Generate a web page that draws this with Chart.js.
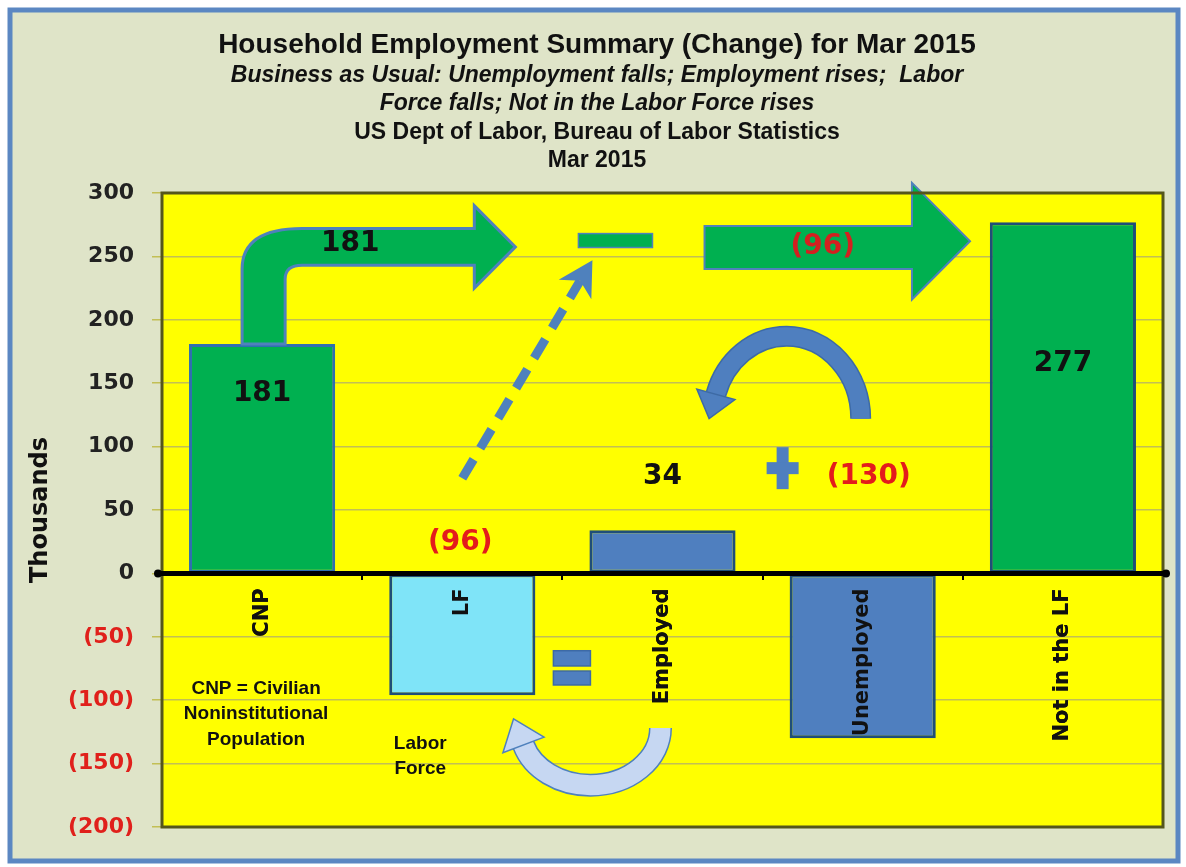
<!DOCTYPE html>
<html>
<head>
<meta charset="utf-8">
<script src="https://cdn.jsdelivr.net/npm/chart.js@4.4.1/dist/chart.umd.min.js"></script>
<style>
  html, body { margin: 0; padding: 0; background: #fff; }
  #wrap { width: 1186px; height: 867px; }
</style>
</head>
<body>
<div id="wrap"><canvas id="chartEmployment" width="1186" height="867"></canvas></div>
<script>
// data (thousands)
const categories = ['CNP', 'LF', 'Employed', 'Unemployed', 'Not in the LF'];
const changes = [181, -96, 34, -130, 277];
const barColors = ['#00b050', '#7fe4f8', '#4f7fbf', '#4f7fbf', '#00b050'];
const barBorders = ['#2f6fb0', '#1f4e79', '#1f4e79', '#1f4e79', '#1f4e79'];
const yMin = -200, yMax = 300, yStep = 50;
const titleLines = [
  'Household Employment Summary (Change) for Mar 2015',
  'Business as Usual: Unemployment falls; Employment rises;  Labor',
  'Force falls; Not in the Labor Force rises',
  'US Dept of Labor, Bureau of Labor Statistics',
  'Mar 2015'
];

function fmt(v) {
  return v < 0 ? '(' + (-v) + ')' : String(v);
}

function curvedArrow(ctx, cx, cy, rx, ry, a0, a1, anti, w, fill, stroke) {
  ctx.save();
  ctx.lineCap = 'butt';
  ctx.beginPath();
  ctx.ellipse(cx, cy, rx, ry, 0, a0, a1, anti);
  ctx.strokeStyle = stroke;
  ctx.lineWidth = w + 3;
  ctx.stroke();
  ctx.beginPath();
  ctx.ellipse(cx, cy, rx, ry, 0, a0, a1, anti);
  ctx.strokeStyle = fill;
  ctx.lineWidth = w;
  ctx.stroke();
  let ex = cx + rx * Math.cos(a1), ey = cy + ry * Math.sin(a1);
  let dx = -rx * Math.sin(a1), dy = ry * Math.cos(a1);
  if (anti) { dx = -dx; dy = -dy; }
  let len = Math.hypot(dx, dy);
  dx /= len; dy /= len;
  let nx = -dy, ny = dx;
  let hw = w * 1.1, hl = w * 1.4;
  ctx.beginPath();
  ctx.moveTo(ex + nx * hw, ey + ny * hw);
  ctx.lineTo(ex + dx * hl, ey + dy * hl);
  ctx.lineTo(ex - nx * hw, ey - ny * hw);
  ctx.closePath();
  ctx.fillStyle = fill;
  ctx.fill();
  ctx.strokeStyle = stroke;
  ctx.lineWidth = 1.5;
  ctx.stroke();
  ctx.restore();
}

const decoPlugin = {
  id: 'deco',
  beforeDraw(chart) {
    const ctx = chart.ctx, a = chart.chartArea;
    ctx.save();
    ctx.fillStyle = '#ffffff';
    ctx.fillRect(0, 0, chart.width, chart.height);
    ctx.fillStyle = '#dfe4c8';
    ctx.fillRect(10, 10, 1168, 851);
    ctx.strokeStyle = '#5b87c2';
    ctx.lineWidth = 5;
    ctx.strokeRect(10, 10, 1168, 851);
    ctx.fillStyle = '#ffff00';
    ctx.fillRect(a.left, a.top, a.right - a.left, a.bottom - a.top);

    // titles
    ctx.fillStyle = '#111';
    ctx.textAlign = 'center';
    ctx.textBaseline = 'middle';
    const fonts = [
      'bold 28px "Liberation Sans"',
      'italic bold 23px "Liberation Sans"',
      'italic bold 23px "Liberation Sans"',
      'bold 23px "Liberation Sans"',
      'bold 23px "Liberation Sans"'
    ];
    const ys = [45, 76, 104, 133, 161];
    titleLines.forEach(function(t, k) {
      ctx.font = fonts[k];
      ctx.fillText(t, 597, ys[k]);
    });
    ctx.restore();
  },
  afterDatasetsDraw(chart) {
    const ctx = chart.ctx;
    const xs = chart.scales.x, ys = chart.scales.y;
    const P = function(i, v) { return [xs.getPixelForValue(i), ys.getPixelForValue(v)]; };
    const ux = xs.getPixelForValue(1) - xs.getPixelForValue(0);
    const uy = ys.getPixelForValue(0) - ys.getPixelForValue(1);
    ctx.save();

    // elbow arrow from CNP up and to the right
    const path = [
      ['M', -0.1, 181], ['L', -0.1, 240], ['Q', -0.1, 272, 0.2, 272],
      ['L', 1.06, 272], ['L', 1.06, 290], ['L', 1.265, 257.5], ['L', 1.06, 225],
      ['L', 1.06, 243], ['L', 0.2, 243], ['Q', 0.115, 243, 0.115, 232], ['L', 0.115, 181]
    ];
    ctx.beginPath();
    path.forEach(function(s) {
      let p = P(s[1], s[2]);
      if (s[0] === 'M') ctx.moveTo(p[0], p[1]);
      else if (s[0] === 'L') ctx.lineTo(p[0], p[1]);
      else { let q = P(s[3], s[4]); ctx.quadraticCurveTo(p[0], p[1], q[0], q[1]); }
    });
    ctx.closePath();
    ctx.fillStyle = '#00b050';
    ctx.fill();
    ctx.strokeStyle = '#4f81bd';
    ctx.lineWidth = 3;
    ctx.stroke();

    // minus sign
    let m0 = P(1.58, 268), m1 = P(1.95, 257);
    ctx.fillStyle = '#00b050';
    ctx.fillRect(m0[0], m0[1], m1[0] - m0[0], m1[1] - m0[1]);
    ctx.strokeStyle = '#4f81bd';
    ctx.lineWidth = 1.5;
    ctx.strokeRect(m0[0], m0[1], m1[0] - m0[0], m1[1] - m0[1]);

    // big arrow to Not in the LF
    const big = [[2.21, 274], [3.246, 274], [3.246, 308], [3.536, 262], [3.246, 216], [3.246, 240], [2.21, 240]];
    ctx.beginPath();
    big.forEach(function(s, k) {
      let p = P(s[0], s[1]);
      if (k === 0) ctx.moveTo(p[0], p[1]); else ctx.lineTo(p[0], p[1]);
    });
    ctx.closePath();
    ctx.fillStyle = '#00b050';
    ctx.fill();
    ctx.strokeStyle = '#4f81bd';
    ctx.lineWidth = 2;
    ctx.stroke();

    // dashed arrow from LF up to the minus sign
    let s0 = P(1.0, 75), s1 = P(1.65, 247);
    let dx = s1[0] - s0[0], dy = s1[1] - s0[1], L = Math.hypot(dx, dy);
    dx /= L; dy /= L;
    ctx.beginPath();
    ctx.setLineDash([22, 13]);
    ctx.moveTo(s0[0], s0[1]);
    ctx.lineTo(s1[0] - dx * 24, s1[1] - dy * 24);
    ctx.strokeStyle = '#4f81bd';
    ctx.lineWidth = 9;
    ctx.stroke();
    ctx.setLineDash([]);
    ctx.beginPath();
    ctx.moveTo(s1[0], s1[1]);
    ctx.lineTo(s1[0] - dx * 34 - dy * 19, s1[1] - dy * 34 + dx * 19);
    ctx.lineTo(s1[0] - dx * 24, s1[1] - dy * 24);
    ctx.lineTo(s1[0] - dx * 34 + dy * 19, s1[1] - dy * 34 - dx * 19);
    ctx.closePath();
    ctx.fillStyle = '#4f81bd';
    ctx.fill();

    // curved arrow over Unemployed
    let c1 = P(2.62, 122);
    curvedArrow(ctx, c1[0], c1[1], ux * 0.37, uy * 65, 0, -Math.PI + 0.3, true, 18, '#4f7fbf', '#3d6aa6');

    // curved arrow under the equals sign
    let c2 = P(1.64, -122);
    curvedArrow(ctx, c2[0], c2[1], ux * 0.35, uy * 45, 0, Math.PI - 0.3, false, 20, '#c6d7f2', '#4f81bd');

    // equals sign
    ctx.fillStyle = '#4f7fbf';
    ctx.strokeStyle = '#3d6aa6';
    ctx.lineWidth = 1.5;
    [[-61, -73], [-77, -88]].forEach(function(r) {
      let a = P(1.455, r[0]), b = P(1.64, r[1]);
      ctx.fillRect(a[0], a[1], b[0] - a[0], b[1] - a[1]);
      ctx.strokeRect(a[0], a[1], b[0] - a[0], b[1] - a[1]);
    });

    // plus sign
    let pc = P(2.6, 83);
    ctx.fillStyle = '#4f7fbf';
    ctx.fillRect(pc[0] - 6, pc[1] - 21, 12, 42);
    ctx.fillRect(pc[0] - 16, pc[1] - 6, 32, 12);

    // value labels
    ctx.textAlign = 'center';
    ctx.textBaseline = 'middle';
    ctx.font = 'bold 28px "DejaVu Sans"';
    const spots = [[0, 142], [0.99, 24], [2.0, 76], [3.03, 76], [4, 165]];
    changes.forEach(function(v, k) {
      let p = P(spots[k][0], spots[k][1]);
      ctx.fillStyle = v < 0 ? '#e31c1c' : '#111';
      ctx.fillText(fmt(v), p[0], p[1]);
    });
    let t1 = P(0.44, 260);
    ctx.fillStyle = '#111';
    ctx.fillText(fmt(changes[0]), t1[0], t1[1]);
    let t2 = P(2.8, 258);
    ctx.fillStyle = '#d42020';
    ctx.fillText(fmt(changes[1]), t2[0], t2[1]);

    // notes
    ctx.fillStyle = '#111';
    ctx.font = 'bold 19px "Liberation Sans"';
    ['CNP = Civilian', 'Noninstitutional', 'Population'].forEach(function(t, k) {
      let p = P(-0.03, -91 - k * 20);
      ctx.fillText(t, p[0], p[1]);
    });
    ['Labor', 'Force'].forEach(function(t, k) {
      let p = P(0.79, -134 - k * 20);
      ctx.fillText(t, p[0], p[1]);
    });
    ctx.restore();
  },
  afterDraw(chart) {
    const ctx = chart.ctx, a = chart.chartArea;
    ctx.save();
    ctx.strokeStyle = '#55561c';
    ctx.lineWidth = 3;
    ctx.strokeRect(a.left, a.top, a.right - a.left, a.bottom - a.top);
    // zero line
    let y0 = chart.scales.y.getPixelForValue(0);
    ctx.beginPath();
    ctx.moveTo(a.left - 4, y0);
    ctx.lineTo(a.right + 3, y0);
    ctx.strokeStyle = '#000';
    ctx.lineWidth = 5;
    ctx.stroke();
    ctx.fillStyle = '#000';
    [a.left - 4, a.right + 3].forEach(function(x) {
      ctx.beginPath();
      ctx.arc(x, y0, 4, 0, Math.PI * 2);
      ctx.fill();
    });
    ctx.restore();
    // category labels sit on top of the bars, as in the original
    chart.scales.x.drawLabels(chart.chartArea);
  }
};

const ctx = document.getElementById('chartEmployment').getContext('2d');
const myChart = new Chart(ctx, {
  type: 'bar',
  data: {
    labels: categories,
    datasets: [{
      data: changes,
      backgroundColor: barColors,
      borderColor: barBorders,
      borderWidth: 3,
      borderSkipped: false,
      barPercentage: 0.73,
      categoryPercentage: 1.0
    }]
  },
  options: {
    responsive: false,
    animation: false,
    layout: { padding: { left: 8, right: 23, top: 193, bottom: 40 } },
    plugins: {
      legend: { display: false },
      tooltip: { enabled: false }
    },
    scales: {
      x: {
        position: { y: 0 },
        offset: true,
        border: { display: false },
        grid: {
          offset: true,
          drawOnChartArea: false,
          tickLength: 7,
          lineWidth: 2,
          color: '#000'
        },
        ticks: {
          autoSkip: false,
          minRotation: 90,
          maxRotation: 90,
          padding: 8,
          color: '#111',
          font: { family: 'DejaVu Sans', size: 21, weight: 'bold' }
        }
      },
      y: {
        min: yMin,
        max: yMax,
        afterFit: function(scale) { scale.width = 154; },
        border: { display: false },
        grid: {
          color: '#c2bf55',
          lineWidth: 1.5,
          tickLength: 10
        },
        ticks: {
          stepSize: yStep,
          padding: 18,
          callback: function(v) { return fmt(v); },
          color: function(c) { return c.tick && c.tick.value < 0 ? '#e0201b' : '#222'; },
          font: { family: 'DejaVu Sans', size: 22, weight: 'bold' }
        },
        title: {
          display: true,
          text: 'Thousands',
          color: '#111',
          padding: { top: 18, bottom: 0 },
          font: { family: 'DejaVu Sans', size: 24, weight: 'bold' }
        }
      }
    }
  },
  plugins: [decoPlugin]
});
</script>
</body>
</html>
